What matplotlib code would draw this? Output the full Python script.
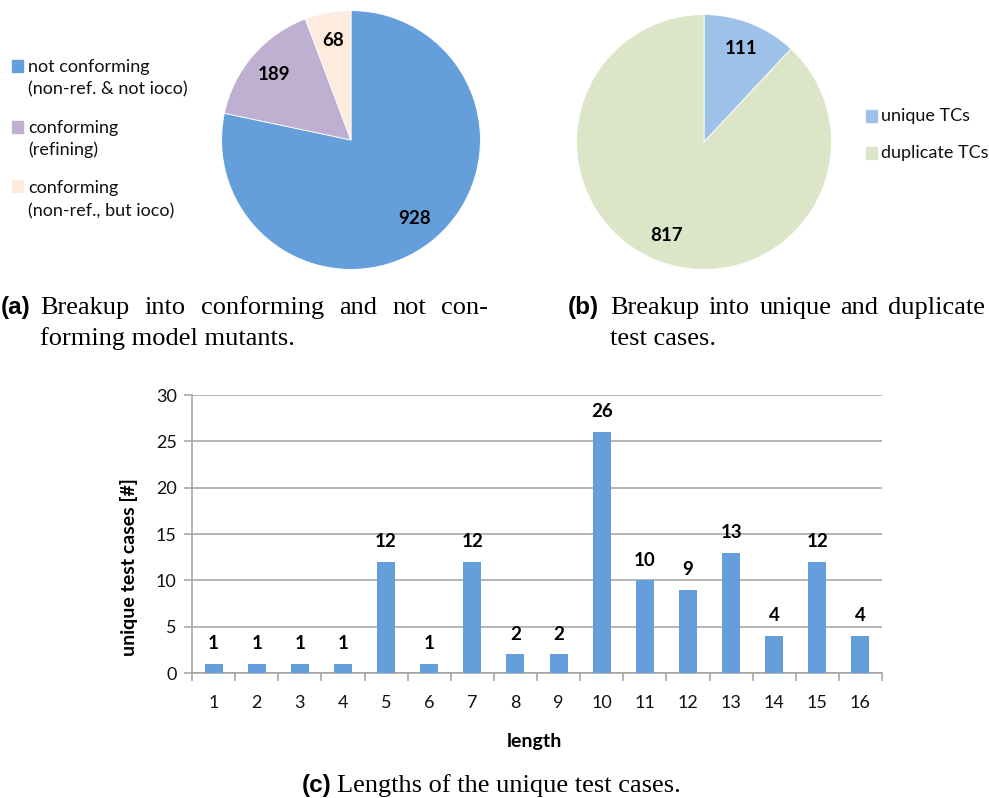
import matplotlib
matplotlib.use("Agg")
import matplotlib.pyplot as plt
from matplotlib.patches import Rectangle

# ---- data ----
mutant_labels = ["not conforming\n(non-ref. & not ioco)",
                 "conforming\n(refining)",
                 "conforming\n(non-ref., but ioco)"]
mutant_counts = [928, 189, 68]
mutant_colors = ["#659FDB", "#BFB0D2", "#FDEBDD"]

tc_labels = ["unique TCs", "duplicate TCs"]
tc_counts = [111, 817]
tc_colors = ["#9DC1E8", "#DDE5C8"]

lengths = list(range(1, 17))
unique_tcs = [1, 1, 1, 1, 12, 1, 12, 2, 2, 26, 10, 9, 13, 4, 12, 4]
bar_color = "#659FDB"

W, H = 989, 798
SANS = "Lato"
INK = "#111111"
fig = plt.figure(figsize=(W / 100, H / 100), dpi=100)


def box(x0, y0, x1, y1):
    """Axes rectangle given in pixels, origin at the top-left."""
    return fig.add_axes([x0 / W, 1 - y1 / H, (x1 - x0) / W, (y1 - y0) / H])


def ftext(x, y, s, **kw):
    return fig.text(x / W, 1 - y / H, s, **kw)


def pie_panel(ax, counts, colors, dist):
    wedges, texts = ax.pie(counts, colors=colors, startangle=90, counterclock=False,
                           labels=[str(c) for c in counts], labeldistance=dist,
                           wedgeprops=dict(edgecolor="white", linewidth=0.6),
                           textprops=dict(fontsize=13.5, fontweight="bold",
                                          family=SANS, color="black"))
    for t in texts:
        t.set_ha("center")
        t.set_va("center")
    ax.set_xlim(-1.02, 1.02)
    ax.set_ylim(-1.02, 1.02)
    ax.set_aspect("equal")
    ax.axis("off")


# ---- (a) pie ----
ax_a = box(219, 8, 483, 272)
pie_panel(ax_a, mutant_counts, mutant_colors, 0.78)

legend_rows_a = [(66, 67, 89), (127, 128, 150), (186, 188, 211)]
for (sq_y, y1, y2), lab, col in zip(legend_rows_a, mutant_labels, mutant_colors):
    fig.add_artist(Rectangle((12 / W, 1 - (sq_y + 5.5) / H), 11 / W, 11 / H,
                             transform=fig.transFigure, color=col))
    l1, l2 = lab.split("\n")
    ftext(28, y1, l1, fontsize=13, family=SANS, va="center", color=INK)
    ftext(28, y2, l2, fontsize=13, family=SANS, va="center", color=INK)

# ---- (b) pie ----
ax_b = box(574, 12, 834, 272)
pie_panel(ax_b, tc_counts, tc_colors, 0.79)

for y, lab, col in zip([116, 153], tc_labels, tc_colors):
    fig.add_artist(Rectangle((866 / W, 1 - (y + 5.5) / H), 11 / W, 11 / H,
                             transform=fig.transFigure, color=col))
    ftext(881, y, lab, fontsize=13, family=SANS, va="center", color=INK)

# ---- captions ----
renderer = fig.canvas.get_renderer()
SERIF = "Liberation Serif"
CAP_FS = 19


def justified(words, x0, x1, y):
    arts = [ftext(0, y, w, fontsize=CAP_FS, family=SERIF, va="baseline") for w in words]
    widths = [a.get_window_extent(renderer).width for a in arts]
    gap = (x1 - x0 - sum(widths)) / (len(words) - 1)
    x = x0
    for a, w in zip(arts, widths):
        a.set_x(x / W)
        x += w + gap


def tag(x, y, s):
    ftext(x, y, s, fontsize=17.5, family="Liberation Sans", fontweight="bold",
          va="baseline")


tag(1, 314, "(a)")
justified("Breakup into conforming and not con-".split(), 40, 488, 314)
ftext(40, 345, "forming model mutants.", fontsize=CAP_FS, family=SERIF, va="baseline")

tag(568, 314, "(b)")
justified("Breakup into unique and duplicate".split(), 610, 985, 314)
ftext(610, 345, "test cases.", fontsize=CAP_FS, family=SERIF, va="baseline")

tag(302, 792, "(c)")
ftext(337, 792, "Lengths of the unique test cases.", fontsize=CAP_FS, family=SERIF,
      va="baseline")

# ---- (c) bar chart ----
grey = "#A0A0A0"
ax_c = box(192, 395, 882, 673)
ax_c.bar(lengths, unique_tcs, width=0.42, color=bar_color, zorder=3)
ax_c.set_xlim(0.5, 16.5)
ax_c.set_ylim(0, 30)
ax_c.set_yticks(range(0, 31, 5))
ax_c.yaxis.grid(True, color=grey, linewidth=1.1, zorder=0)
for s in ["top", "right"]:
    ax_c.spines[s].set_visible(False)
for s in ["left", "bottom"]:
    ax_c.spines[s].set_color(grey)
    ax_c.spines[s].set_linewidth(1.1)
ax_c.set_xticks(lengths)
ax_c.set_xticks([i + 0.5 for i in range(0, 17)], minor=True)
ax_c.tick_params(axis="x", which="major", length=0, pad=16, labelsize=13)
ax_c.tick_params(axis="x", which="minor", length=6, color=grey, width=1.1)
ax_c.tick_params(axis="y", length=6, color=grey, width=1.1, pad=5, labelsize=13)
for lab in ax_c.get_xticklabels() + ax_c.get_yticklabels():
    lab.set_family(SANS)
    lab.set_color(INK)
for x, v in zip(lengths, unique_tcs):
    ax_c.annotate(str(v), (x, v), xytext=(0, 14.5), textcoords="offset points",
                  ha="center", va="center", fontsize=13.5, fontweight="bold", family=SANS)

# axis titles
ftext(129, 567, "unique test cases [#]", fontsize=14, fontweight="bold", family=SANS,
      rotation=90, ha="center", va="center")
ftext(534, 742, "length", fontsize=14, fontweight="bold", family=SANS,
      ha="center", va="center")

fig.savefig("out.png", dpi=100, facecolor="white")
